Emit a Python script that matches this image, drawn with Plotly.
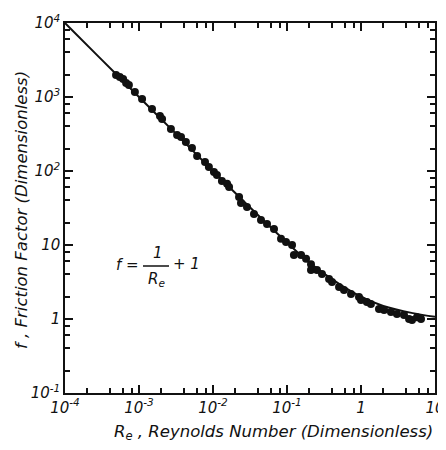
import plotly.graph_objects as go

# Measured data points (Reynolds number, friction factor)
re_pts = [4.9e-4, 5.5e-4, 6.1e-4, 6.7e-4, 7.3e-4, 8.8e-4, 1.1e-3, 1.5e-3, 1.92e-3, 2.05e-3,
          2.7e-3, 3.27e-3, 3.7e-3, 4.3e-3, 5.2e-3, 6.1e-3, 7.8e-3, 8.8e-3, 0.0103, 0.0113,
          0.0132, 0.0155, 0.0165, 0.0225, 0.0239, 0.0288, 0.0358, 0.0445, 0.0537, 0.0667,
          0.083, 0.097, 0.117, 0.124, 0.155, 0.181, 0.211, 0.211, 0.254, 0.297,
          0.37, 0.406, 0.505, 0.589, 0.733, 0.94, 1.0, 1.2, 1.36, 1.75,
          2.05, 2.54, 3.06, 3.81, 4.46, 4.89, 5.71, 6.47]
f_pts = [1980, 1860, 1750, 1545, 1450, 1170, 940, 690, 553, 505,
         370, 306, 288, 246, 205, 160, 132, 113, 97, 88,
         73, 67, 61, 44.5, 37, 32.7, 26.2, 21.8, 19.2, 16.4,
         12.1, 11.0, 10.0, 7.3, 7.3, 6.5, 5.5, 4.6, 4.6, 4.05,
         3.47, 3.16, 2.71, 2.47, 2.18, 1.98, 1.81, 1.70, 1.60, 1.36,
         1.32, 1.24, 1.17, 1.13, 1.0, 0.97, 1.06, 1.0]

# Fitted curve
re_line = [1e-4, 3e-4, 1e-3, 3e-3, 1e-2, 3e-2, 0.1, 0.2, 0.5, 1, 2, 5, 10]
f_line = [10000, 3330, 1000, 335, 100, 34, 10.8, 5.8, 3.0, 2.0, 1.5, 1.2, 1.07]

x_tickvals = [1e-4, 1e-3, 1e-2, 1e-1, 1, 10]
x_ticktext = ["10<sup>-4</sup>", "10<sup>-3</sup>", "10<sup>-2</sup>", "10<sup>-1</sup>", "1", "10"]
y_tickvals = [1e-1, 1, 10, 100, 1000, 10000]
y_ticktext = ["10<sup>-1</sup>", "1", "10", "10<sup>2</sup>", "10<sup>3</sup>", "10<sup>4</sup>"]
x_title = "R<sub>e</sub> , Reynolds Number (Dimensionless)"
y_title = "f , Friction Factor (Dimensionless)"

def minors(lo, hi):
    out = []
    for e in range(lo, hi):
        for m in (2, 4, 6, 8):
            out.append(m * 10 ** e)
    return out

INK = "#111111"
FONT = dict(family="DejaVu Sans", size=15, color=INK, style="italic")
TFONT = dict(family="DejaVu Sans", size=16.5, color=INK, style="italic")

fig = go.Figure()
fig.add_trace(go.Scatter(x=re_line, y=f_line, mode="lines", line=dict(color=INK, width=2, shape="spline"),
                         showlegend=False, hoverinfo="skip"))
fig.add_trace(go.Scatter(x=re_pts, y=f_pts, mode="markers", marker=dict(color=INK, size=8),
                         showlegend=False))

axis_common = dict(
    type="log", showgrid=False, zeroline=False, showline=True, linecolor=INK, linewidth=1.5,
    mirror="allticks", ticks="inside", ticklen=8, tickwidth=1.5, tickcolor=INK,
    tickfont=FONT, automargin=False, ticklabeloverflow="allow",
)
fig.update_xaxes(**axis_common, range=[-4, 1], tickvals=x_tickvals, ticktext=x_ticktext,
                 minor=dict(tickvals=minors(-4, 1), ticks="inside", ticklen=5, tickwidth=1.5, tickcolor=INK))
fig.update_yaxes(**axis_common, range=[-1, 4], tickvals=y_tickvals, ticktext=y_ticktext,
                 minor=dict(tickvals=minors(-1, 4), ticks="inside", ticklen=5, tickwidth=1.5, tickcolor=INK))

# figure size and plot area in the figure's own pixels (page adds an 8px body margin)
W, H = 438, 434
L, R, T, B = 57, 427, 15, 385

def px2paper(px, py):
    return (px - 8 - L) / (R - L), (B - (py - 8)) / (B - T)

# axis titles
xp, yp = px2paper(273, 432)
fig.add_annotation(x=xp, y=yp, xref="paper", yref="paper", text=x_title, showarrow=False,
                   font=TFONT, xanchor="center", yanchor="middle")
xp, yp = px2paper(22, 210)
fig.add_annotation(x=xp, y=yp, xref="paper", yref="paper", text=y_title, showarrow=False,
                   font=TFONT, xanchor="center", yanchor="middle", textangle=-90)

# equation
anns = [("f =", 127, 265), ("1", 158, 253), ("R<sub>e</sub>", 156, 279), ("+ 1", 186, 264)]
for text, px, py in anns:
    xp, yp = px2paper(px, py)
    fig.add_annotation(x=xp, y=yp, xref="paper", yref="paper", text=text, showarrow=False,
                       font=FONT, xanchor="center", yanchor="middle")
x0, y0 = px2paper(143, 266)
x1, _ = px2paper(169, 266)
fig.add_shape(type="line", xref="paper", yref="paper", x0=x0, x1=x1, y0=y0, y1=y0,
              line=dict(color=INK, width=1.5))

fig.update_layout(width=W, height=H, margin=dict(l=L, r=W - R, t=T, b=H - B),
                  paper_bgcolor="white", plot_bgcolor="white", showlegend=False)
fig.write_html("out.html")
